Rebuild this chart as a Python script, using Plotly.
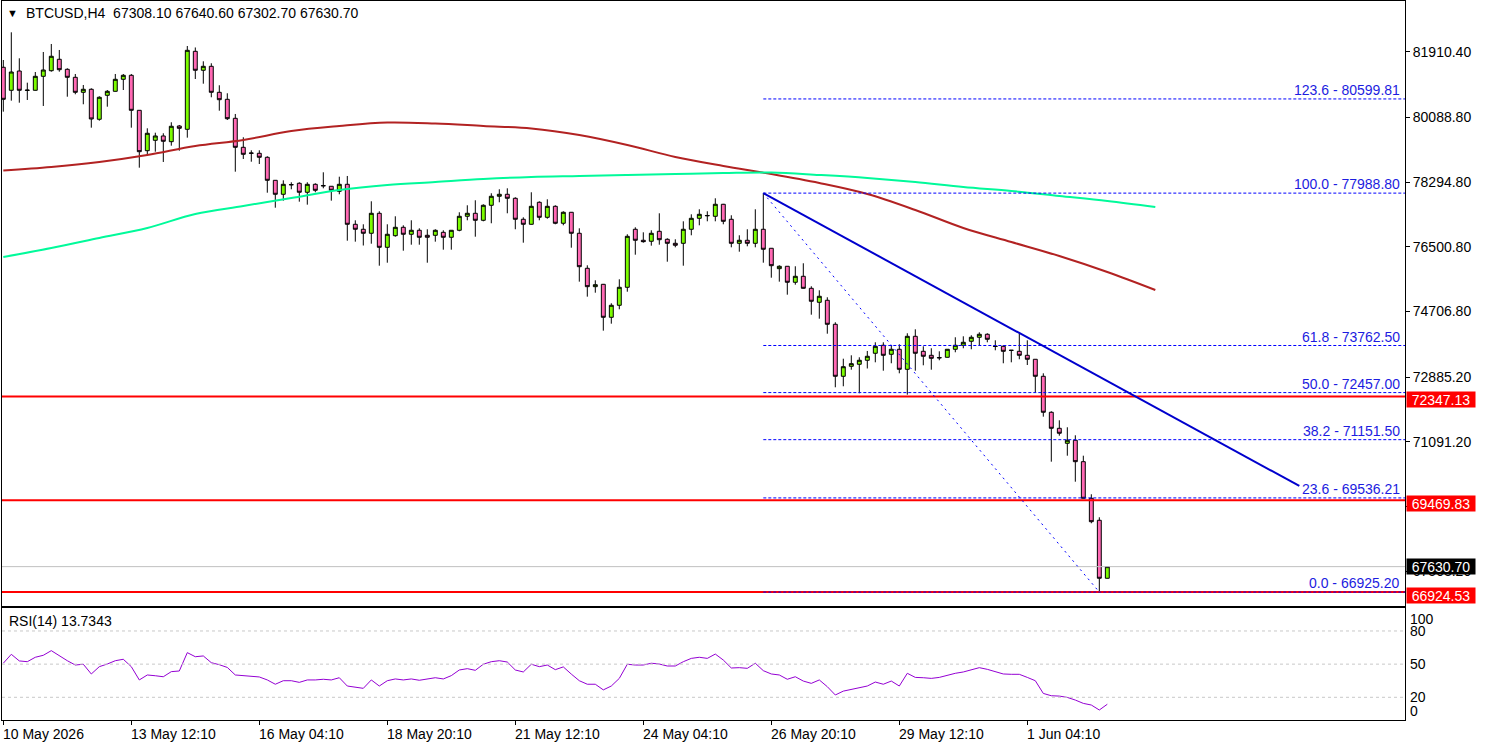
import plotly.graph_objects as go

# ---------------- data ----------------
open_ = [81478, 80840, 81375, 80835, 80840, 81228, 81383, 81700, 81422, 81200,
         80784, 80868, 80036, 80701, 80812, 81145, 81256, 80285, 79165, 79453,
         79573, 79415, 79850, 79758, 81921, 81395, 81505, 80784, 80590, 80063,
         79259, 79101, 79093, 78982, 78344, 77956, 78225, 78261, 78012, 78233,
         78200, 78178, 78039, 78233, 77124, 76986, 76875, 77429, 76486, 76808,
         77041, 76847, 76958, 76819, 76819, 76902, 76764, 76958, 77346, 77429,
         77235, 77651, 77901, 77956, 77845, 77263, 77124, 77734, 77318, 77623,
         77152, 77457, 76875, 75904, 75394, 75460, 74545, 74878, 75377, 76986,
         76681, 76653, 76930, 76708, 76597, 76597, 76986, 77290, 77358, 77346,
         77679, 77263, 76597, 76681, 76597, 76986, 76459, 75893, 75960, 75516,
         75682, 75349, 74961, 75017, 74351, 72909, 73186, 73242, 73353, 73547,
         73769, 73519, 73658, 73103, 74018, 73602, 73491, 73430, 73436, 73658,
         73769, 73880, 73991, 74074, 73745, 73741, 73632, 73602, 73491, 73381,
         72909, 71911, 71467, 71051, 71135, 70541, 69526, 68916, 67308.1]
high = [81680, 82448, 81727, 81051, 81347, 81902, 82124, 81958, 81450, 81292,
        80987, 80895, 80674, 80848, 81292, 81292, 81292, 80290, 79786, 79664,
        79648, 79953, 79878, 82068, 82027, 81644, 81589, 80979, 80757, 80183,
        79537, 79176, 79176, 79010, 78350, 78344, 78289, 78289, 78289, 78261,
        78566, 78185, 78444, 78464, 77235, 77124, 77762, 77485, 77124, 77346,
        77096, 77235, 77013, 76986, 76986, 76958, 76965, 77457, 77651, 77790,
        77679, 77984, 78095, 78122, 77873, 77318, 78012, 77762, 77817, 77651,
        77485, 77465, 77013, 75987, 75571, 75470, 74934, 75599, 76847, 77041,
        76902, 76958, 77429, 76736, 76708, 77207, 77401, 77540, 77485, 77845,
        77690, 77374, 76819, 76986, 77540, 77988.8, 76465, 75987, 75965, 75960,
        76043, 75405, 75294, 75100, 74407, 73397, 73491, 73436, 73611, 73852,
        73852, 73769, 73797, 74102, 74212, 73741, 73686, 73602, 73665, 73991,
        74018, 74046, 74129, 74102, 73907, 73769, 73635, 74102, 73907, 73385,
        72992, 71939, 71689, 71495, 71273, 70707, 69637, 68999, 67640.6]
low = [80247, 80552, 80496, 80571, 80830, 80405, 81356, 81356, 80662, 80729,
       80452, 79803, 79997, 80385, 80805, 80848, 79803, 78694, 79046, 79137,
       78852, 79304, 79165, 79526, 81153, 81023, 80646, 80274, 80016, 78583,
       78935, 78860, 78796, 78000, 77584, 77779, 78095, 77751, 77668, 78012,
       78122, 77779, 77956, 76669, 76642, 76536, 76586, 75976, 76059, 76780,
       76392, 76558, 76558, 76059, 76642, 76420, 76420, 76930, 77235, 76780,
       77207, 77152, 77734, 77429, 76986, 76614, 77115, 77235, 77279, 77124,
       77096, 76475, 75533, 75117, 75227, 74174, 74368, 74767, 75255, 76281,
       76614, 76531, 76558, 76087, 76486, 75976, 76819, 77096, 77207, 77207,
       77124, 76486, 76364, 76514, 76486, 76059, 75643, 75533, 75172, 75449,
       75340, 74617, 74506, 74090, 72604, 72632, 73092, 72438, 73126, 73297,
       73064, 73270, 72992, 72399, 73064, 73214, 73092, 73353, 73430, 73575,
       73686, 73658, 73769, 73852, 73630, 73270, 73297, 73381, 73222, 72460,
       71789, 70541, 71262, 70707, 69986, 69520, 68833, 66925.2, 67302.7]
close = [80590, 81347, 80840, 80845, 81228, 81403, 81783, 81411, 81200, 80784,
         80868, 80044, 80646, 80812, 81145, 81256, 80285, 79137, 79648, 79573,
         79426, 79842, 79786, 81949, 81395, 81505, 80784, 80579, 80052, 79259,
         79065, 79095, 78982, 78344, 77956, 78233, 78220, 78012, 78233, 78067,
         78190, 78067, 78233, 77124, 76986, 76875, 77429, 76486, 76847, 77041,
         76847, 76958, 76764, 76764, 76958, 76764, 76958, 77346, 77429, 77235,
         77651, 77901, 77956, 77845, 77263, 77124, 77623, 77318, 77623, 77152,
         77457, 76875, 75948, 75394, 75449, 74545, 74878, 75377, 76791, 76681,
         76642, 76875, 76697, 76597, 76542, 76986, 77290, 77401, 77368, 77679,
         77207, 76597, 76681, 76597, 76986, 76431, 75976, 75960, 75516, 75682,
         75349, 74989, 75128, 74351, 72909, 73175, 73259, 73353, 73464, 73741,
         73491, 73658, 73103, 74018, 73547, 73464, 73408, 73420, 73658, 73769,
         73852, 73991, 74074, 73935, 73737, 73602, 73628, 73491, 73381, 72909,
         71911, 71467, 71329, 71135, 70541, 69526, 68877, 67308.1, 67630.7]

rsi = [50.8, 58.9, 52.9, 52.2, 56.2, 58.0, 62.2, 57.4, 53.1, 49.2,
       49.9, 41.1, 47.7, 50.1, 53.1, 54.4, 47.7, 35.7, 40.2, 39.5,
       38.6, 43.2, 43.8, 60.4, 56.7, 57.4, 51.3, 49.5, 47.0, 40.2,
       39.6, 39.0, 38.4, 35.7, 31.8, 35.0, 35.0, 33.5, 35.7, 35.7,
       36.3, 35.7, 37.7, 30.2, 29.0, 28.1, 35.7, 30.2, 35.0, 36.6,
       35.7, 36.6, 35.4, 36.6, 37.7, 36.6, 39.6, 44.7, 45.9, 44.4,
       49.9, 52.2, 53.1, 51.9, 44.7, 42.9, 49.9, 47.7, 49.2, 45.0,
       47.5, 41.0, 35.0, 31.8, 31.8, 26.7, 30.2, 37.1, 49.9, 49.2,
       49.2, 50.8, 50.1, 48.3, 48.3, 52.2, 55.2, 56.2, 55.2, 59.1,
       53.7, 46.5, 46.8, 46.2, 50.8, 44.1, 41.1, 40.2, 36.3, 38.6,
       34.7, 32.6, 35.7, 29.6, 22.1, 25.6, 27.1, 28.1, 30.2, 33.8,
       31.8, 34.7, 30.2, 41.7, 38.0, 37.7, 37.1, 38.0, 40.2, 41.7,
       42.9, 44.7, 46.8, 45.3, 42.9, 41.1, 40.8, 40.8, 38.0, 35.0,
       23.5, 21.4, 21.1, 19.9, 17.5, 14.5, 13.0, 8.5, 13.7343]

ma_x = [0, 6, 12, 18, 24, 30, 36, 42, 48, 54, 60, 66, 72, 78, 84, 90, 96,
        102, 108, 114, 120, 126, 132, 138, 144]
ma_red = [78616, 78713, 78852, 79046, 79295, 79462, 79711, 79850, 79947, 79919,
          79850, 79781, 79600, 79323, 78990, 78741, 78519, 78269, 77964, 77521,
          77022, 76633, 76245, 75801, 75302]
ma_green = [76217, 76467, 76744, 77022, 77410, 77632, 77853, 78075, 78214, 78297,
            78380, 78436, 78463, 78491, 78519, 78547, 78561, 78491, 78408, 78297,
            78158, 78048, 77909, 77770, 77604]

fib_ratios = [123.6, 100.0, 61.8, 50.0, 38.2, 23.6, 0.0]
fib_prices = [80599.81, 77988.80, 73762.50, 72457.00, 71151.50, 69536.21, 66925.20]
fib_start = 95          # bar of the swing high
fib_end = 137           # bar of the swing low
trend_x = [95, 162]
trend_y = [77988.80, 69867.0]

red_levels = [72347.13, 69469.83, 66924.53]
last_price = 67630.70

price_ticks = [81910.40, 80088.80, 78294.80, 76500.80, 74706.80, 72885.20,
               71091.20, 69297.20, 67503.20]
rsi_levels = [80, 50, 20]
rsi_labels = [100, 80, 50, 20, 0]

time_tick_idx = [0, 16, 32, 48, 64, 80, 96, 112, 128]
time_tick_text = ["10 May 2026", "13 May 12:10", "16 May 04:10", "18 May 20:10",
                  "21 May 12:10", "24 May 04:10", "26 May 20:10", "29 May 12:10",
                  "1 Jun 04:10"]

symbol_text = "BTCUSD,H4  67308.10 67640.60 67302.70 67630.70"
rsi_text = "RSI(14) 13.7343"

# ---------------- figure ----------------
FONT = "Liberation Sans"
idx = list(range(len(open_)))
X_LO, X_HI = -0.1625, 175.21

fig = go.Figure()
fig.add_trace(go.Candlestick(
    x=idx, open=open_, high=high, low=low, close=close,
    increasing=dict(fillcolor="#7CFC00", line=dict(color="black", width=1)),
    decreasing=dict(fillcolor="#FF69B4", line=dict(color="black", width=1)),
    whiskerwidth=0, showlegend=False, hoverinfo="skip", xaxis="x", yaxis="y"))
fig.add_trace(go.Scatter(x=ma_x, y=ma_red, mode="lines",
                         line=dict(color="#B22222", width=2, shape="spline", smoothing=1.0),
                         showlegend=False, hoverinfo="skip", xaxis="x", yaxis="y"))
fig.add_trace(go.Scatter(x=ma_x, y=ma_green, mode="lines",
                         line=dict(color="#00FA9A", width=2, shape="spline", smoothing=1.0),
                         showlegend=False, hoverinfo="skip", xaxis="x", yaxis="y"))
fig.add_trace(go.Scatter(x=idx, y=rsi, mode="lines",
                         line=dict(color="#9400D3", width=1),
                         showlegend=False, hoverinfo="skip", xaxis="x2", yaxis="y2"))

shapes = []
for v in rsi_levels:
    shapes.append(dict(type="line", xref="paper", x0=0, x1=1, yref="y2", y0=v, y1=v,
                       line=dict(color="#C8C8C8", width=1, dash="3px,3px")))
shapes.append(dict(type="line", xref="paper", x0=0, x1=1, yref="y", y0=last_price,
                   y1=last_price, line=dict(color="#C0C0C0", width=1)))
for v in red_levels:
    shapes.append(dict(type="line", xref="paper", x0=0, x1=1, yref="y", y0=v, y1=v,
                       line=dict(color="#FF0000", width=2)))
for v in fib_prices:
    shapes.append(dict(type="line", xref="x", x0=fib_start, x1=X_HI, yref="y", y0=v, y1=v,
                       line=dict(color="#0000FF", width=1, dash="3px,2px")))
shapes.append(dict(type="line", xref="x", yref="y", x0=fib_start, y0=fib_prices[1],
                   x1=fib_end, y1=fib_prices[-1],
                   line=dict(color="#0000FF", width=1, dash="2px,4px")))
shapes.append(dict(type="line", xref="x", yref="y", x0=trend_x[0], y0=trend_y[0],
                   x1=trend_x[1], y1=trend_y[1], line=dict(color="#0000CD", width=2)))

ann = []
ann.append(dict(text="▼", xref="paper", yref="paper", x=0, y=1, xanchor="left",
                yanchor="middle", xshift=3, yshift=-12, showarrow=False,
                font=dict(family=FONT, size=11, color="black")))
ann.append(dict(text=symbol_text, xref="paper", yref="paper", x=0, y=1, xanchor="left",
                yanchor="middle", xshift=22, yshift=-12, showarrow=False,
                font=dict(family=FONT, size=14, color="black")))
ann.append(dict(text=rsi_text, xref="paper", yref="y2", x=0, y=100, xanchor="left",
                yanchor="middle", xshift=5, yshift=-12, showarrow=False,
                font=dict(family=FONT, size=14, color="black")))
for r, p in zip(fib_ratios, fib_prices):
    ann.append(dict(text=f"{r:.1f} - {p:.2f}", xref="paper", yref="y", x=1, y=p,
                    xanchor="right", yanchor="bottom", xshift=-3, yshift=-1,
                    showarrow=False, font=dict(family=FONT, size=14, color="#1C1CE0")))
for v in red_levels:
    ann.append(dict(text=f"{v:.2f}", xref="paper", yref="y", x=1, y=v, xanchor="left",
                    yanchor="middle", xshift=1, yshift=-3, showarrow=False,
                    bgcolor="#FF0000", width=68, height=15, borderpad=0,
                    font=dict(family=FONT, size=14, color="white")))
ann.append(dict(text=f"{last_price:.2f}", xref="paper", yref="y", x=1, y=last_price,
                xanchor="left", yanchor="middle", xshift=1, showarrow=False,
                bgcolor="black", width=68, height=15, borderpad=0,
                font=dict(family=FONT, size=14, color="white")))
rsi_shift = {100: -10, 0: 8}
for v in rsi_labels:
    ann.append(dict(text=str(v), xref="paper", yref="y2", x=1, y=v, xanchor="left",
                    yanchor="middle", xshift=3, yshift=rsi_shift.get(v, 0),
                    showarrow=False, font=dict(family=FONT, size=14, color="black")))
for t, s in zip(time_tick_idx, time_tick_text):
    ann.append(dict(text=s, xref="x2", yref="paper", x=t, y=0, xanchor="left",
                    yanchor="top", xshift=-2, yshift=-4, showarrow=False,
                    font=dict(family=FONT, size=14, color="black")))

axis_common = dict(showline=True, mirror=True, linecolor="black", linewidth=1,
                   showgrid=False, zeroline=False)
fig.update_layout(
    width=1485, height=747,
    margin=dict(l=2, r=80, t=1, b=27),
    paper_bgcolor="white", plot_bgcolor="white",
    showlegend=False,
    font=dict(family=FONT, size=14, color="black"),
    xaxis=dict(domain=[0, 1], range=[X_LO, X_HI], anchor="y", showticklabels=False,
               ticks="", rangeslider=dict(visible=False), **axis_common),
    yaxis=dict(domain=[0.1586, 1], range=[66540, 83316], side="right", anchor="x",
               tickvals=price_ticks, ticktext=[f"{v:.2f}" for v in price_ticks],
               ticks="outside", ticklen=4, tickcolor="black",
               tickfont=dict(family=FONT, size=14, color="black"), **axis_common),
    xaxis2=dict(domain=[0, 1], range=[X_LO, X_HI], anchor="y2",
                tickvals=time_tick_idx, ticktext=[""] * len(time_tick_idx),
                ticks="outside", ticklen=4, tickcolor="black", **axis_common),
    yaxis2=dict(domain=[0, 0.1558], range=[-0.54, 100.8], anchor="x2",
                showticklabels=False, ticks="", **axis_common),
    shapes=shapes,
    annotations=ann,
)

fig.write_html("out.html")
